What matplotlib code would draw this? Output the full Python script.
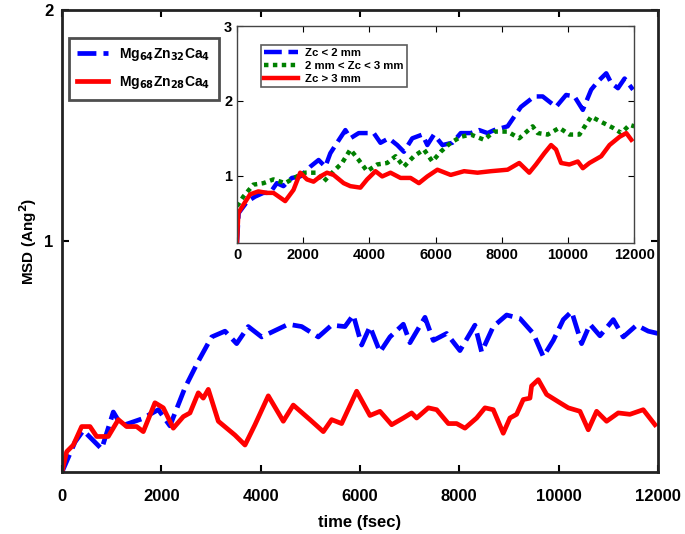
import matplotlib.pyplot as plt

plt.rcParams['font.family'] = ['Liberation Sans', 'DejaVu Sans']
plt.rcParams['font.weight'] = 'bold'

# main plot: Mg64Zn32Ca4 (blue, dashed)
t_mg64 = [0, 262, 429, 799, 1033, 1201, 1604, 1940, 2174, 2476, 2745, 3014, 3282, 3517,
          3751, 4020, 4557, 4826, 5161, 5429, 5698, 5866, 6034, 6201, 6403, 6604, 6873,
          7007, 7309, 7477, 7745, 8013, 8315, 8450, 8684, 8953, 9221, 9490, 9691, 9892,
          10094, 10262, 10463, 10631, 10832, 11101, 11302, 11570, 11805, 12000]
msd_mg64 = [0, 0.13, 0.18, 0.10, 0.26, 0.20, 0.23, 0.27, 0.20, 0.365, 0.48, 0.585, 0.61, 0.556,
            0.63, 0.585, 0.64, 0.63, 0.585, 0.636, 0.63, 0.68, 0.55, 0.63, 0.52, 0.585, 0.64,
            0.56, 0.67, 0.57, 0.60, 0.526, 0.636, 0.52, 0.63, 0.68, 0.665, 0.60, 0.50, 0.57,
            0.66, 0.695, 0.556, 0.64, 0.59, 0.66, 0.585, 0.636, 0.61, 0.60]

# main plot: Mg68Zn28Ca4 (red, solid)
t_mg68 = [0, 94, 228, 396, 564, 698, 932, 1134, 1302, 1503, 1637, 1872, 2040, 2241, 2443,
          2577, 2745, 2845, 2946, 3148, 3483, 3685, 3886, 4154, 4456, 4657, 4993, 5262,
          5430, 5631, 5933, 6201, 6403, 6638, 6873, 7040, 7141, 7376, 7544, 7779, 7946,
          8114, 8349, 8517, 8684, 8885, 9020, 9154, 9288, 9423, 9456, 9590, 9758, 10027,
          10195, 10430, 10597, 10765, 10966, 11201, 11436, 11704, 11940]
msd_mg68 = [0, 0.088, 0.117, 0.197, 0.197, 0.154, 0.154, 0.227, 0.197, 0.197, 0.175, 0.30,
            0.278, 0.19, 0.24, 0.256, 0.343, 0.32, 0.358, 0.22, 0.16, 0.117, 0.205, 0.33,
            0.22, 0.29, 0.227, 0.175, 0.227, 0.21, 0.35, 0.245, 0.263, 0.205, 0.234, 0.256,
            0.234, 0.278, 0.27, 0.21, 0.21, 0.19, 0.234, 0.278, 0.27, 0.168, 0.234, 0.25,
            0.314, 0.32, 0.373, 0.40, 0.336, 0.30, 0.278, 0.263, 0.183, 0.263, 0.22, 0.256,
            0.25, 0.27, 0.205]

# inset: Zc < 2 mm (blue, dashed)
t_zc1 = [0, 50, 300, 545, 797, 1000, 1203, 1403, 1657, 1909, 2212, 2464, 2667, 2818, 3021,
         3273, 3424, 3676, 4130, 4333, 4585, 4839, 5039, 5294, 5597, 5748, 5948, 6203,
         6506, 6758, 7061, 7312, 7567, 7767, 8173, 8373, 8576, 8979, 9233, 9636, 9939,
         10191, 10445, 10697, 10900, 11152, 11303, 11506, 11706, 11961]
msd_zc1 = [0.1, 0.5, 0.65, 0.72, 0.77, 0.77, 0.90, 0.86, 0.97, 0.99, 1.12, 1.21, 1.12, 1.30,
           1.44, 1.61, 1.50, 1.57, 1.57, 1.44, 1.50, 1.41, 1.32, 1.50, 1.55, 1.41, 1.55,
           1.41, 1.44, 1.57, 1.57, 1.61, 1.57, 1.61, 1.66, 1.79, 1.92, 2.06, 2.06, 1.92,
           2.08, 2.06, 1.88, 2.15, 2.26, 2.37, 2.24, 2.17, 2.30, 2.15]

# inset: 2 mm < Zc < 3 mm (green, dotted)
t_zc2 = [0, 191, 494, 797, 1100, 1455, 1809, 2061, 2415, 2615, 2918, 3173, 3424, 3676, 3930,
         4233, 4536, 4788, 5039, 5342, 5645, 5900, 6152, 6455, 6758, 7061, 7464, 7767,
         8173, 8524, 8930, 9082, 9385, 9736, 10039, 10342, 10697, 11000, 11355, 11606,
         11858, 12000]
msd_zc2 = [0.59, 0.72, 0.88, 0.90, 0.95, 0.90, 0.99, 1.04, 1.04, 0.92, 1.06, 1.17, 1.35, 1.21,
           1.06, 1.15, 1.17, 1.26, 1.12, 1.26, 1.35, 1.19, 1.32, 1.44, 1.52, 1.55, 1.48,
           1.59, 1.59, 1.50, 1.66, 1.57, 1.55, 1.64, 1.55, 1.55, 1.79, 1.72, 1.64, 1.57,
           1.68, 1.66]

# inset: Zc > 3 mm (red, solid)
t_zc3 = [0, 40, 191, 394, 645, 900, 1100, 1455, 1706, 1909, 2112, 2312, 2515, 2718, 2918,
         3221, 3424, 3727, 3930, 4182, 4385, 4636, 4939, 5242, 5494, 5748, 6052, 6455,
         6858, 7264, 7667, 8173, 8524, 8827, 9030, 9282, 9485, 9636, 9788, 10039, 10294,
         10445, 10645, 11000, 11252, 11555, 11758, 11909]
msd_zc3 = [0.10, 0.50, 0.61, 0.75, 0.79, 0.77, 0.77, 0.66, 0.81, 1.04, 0.95, 0.92, 0.99,
           1.04, 1.01, 0.90, 0.86, 0.84, 0.95, 1.06, 0.99, 1.04, 0.97, 0.97, 0.90, 0.99,
           1.08, 1.01, 1.06, 1.04, 1.06, 1.08, 1.17, 1.04, 1.15, 1.30, 1.41, 1.35, 1.17,
           1.15, 1.19, 1.10, 1.17, 1.26, 1.41, 1.52, 1.57, 1.48]

fig = plt.figure(figsize=(6.85, 5.34), dpi=100)
ax = fig.add_axes([0.0905, 0.116, 0.870, 0.865])
ax.plot(t_mg64, msd_mg64, color='blue', lw=3.4, dashes=(4, 1.5),
        label=r'Mg$_{\mathbf{64}}$Zn$_{\mathbf{32}}$Ca$_{\mathbf{4}}$')
ax.plot(t_mg68, msd_mg68, color='red', lw=3.4,
        label=r'Mg$_{\mathbf{68}}$Zn$_{\mathbf{28}}$Ca$_{\mathbf{4}}$')
ax.set_xlim(0, 12000)
ax.set_ylim(0, 2)
ax.set_xticks(range(0, 12001, 2000))
ax.set_yticks([1, 2])
ax.tick_params(direction='in', top=True, right=True, labelsize=12, width=1.5, length=5)
ax.tick_params(axis='x', pad=12)
ax.tick_params(axis='y', pad=6)
for s in ax.spines.values():
    s.set_linewidth(2)
    s.set_color('#222222')
ax.set_xlabel('time (fsec)', fontsize=12, fontweight='bold', labelpad=8)
ax.set_ylabel(r'MSD (Ang$^{\mathbf{2}}$)', fontsize=11, fontweight='bold', labelpad=4)
leg = ax.legend(loc='upper left', bbox_to_anchor=(0.0, 0.955), fontsize=10,
                fancybox=False, edgecolor='#222222', handlelength=2.2, borderpad=0.6,
                labelspacing=0.8)
leg.get_frame().set_linewidth(2)

# inset
ins = fig.add_axes([0.346, 0.545, 0.580, 0.406])
ins.plot(t_zc1, msd_zc1, color='blue', lw=3.2, dashes=(4, 1.5), label='Zc < 2 mm')
ins.plot(t_zc2, msd_zc2, color='green', lw=3.2, dashes=(1, 1), label='2 mm < Zc < 3 mm')
ins.plot(t_zc3, msd_zc3, color='red', lw=3.2, label='Zc > 3 mm')
ins.set_xlim(0, 12000)
ins.set_ylim(0.1, 3)
ins.set_xticks(range(0, 12001, 2000))
ins.set_yticks([1, 2, 3])
ins.tick_params(direction='in', top=True, right=True, labelsize=10.5, length=4)
for s in ins.spines.values():
    s.set_linewidth(1)
    s.set_color('#444444')
ileg = ins.legend(loc='upper left', bbox_to_anchor=(0.045, 0.94), fontsize=8.2,
                  fancybox=False, edgecolor='#333333', handlelength=3.0,
                  borderpad=0.3, labelspacing=0.25, handletextpad=0.6)
ileg.get_frame().set_linewidth(1.2)

fig.savefig('out.png', dpi=100)
